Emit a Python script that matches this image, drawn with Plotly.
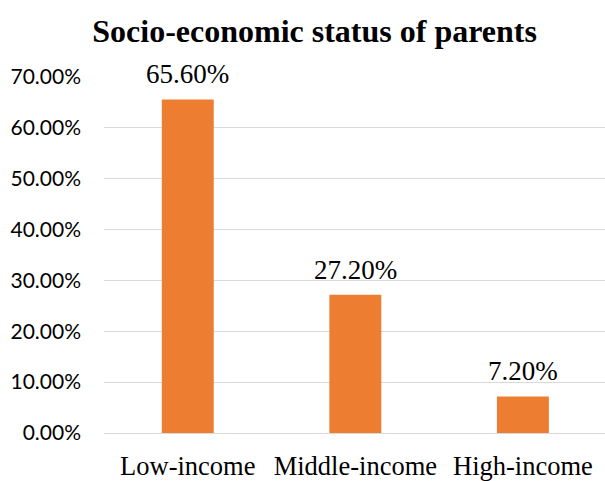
import plotly.graph_objects as go

categories = ["Low-income", "Middle-income", "High-income"]
values = [0.656, 0.272, 0.072]
tick_vals = [0, 0.1, 0.2, 0.3, 0.4, 0.5, 0.6, 0.7]

fig = go.Figure(go.Bar(
    x=categories, y=values, width=0.31,
    marker=dict(color="#ED7D31", line=dict(width=0)),
    cliponaxis=False,
))
for c, v in zip(categories, values):
    fig.add_annotation(x=c, y=v, text=f"{v*100:.2f}%", showarrow=False,
                       yanchor="bottom", yshift=8,
                       font=dict(family="Liberation Serif", size=27, color="#000000"))
fig.update_layout(
    width=605, height=481,
    margin=dict(l=104, r=0, t=77, b=45),
    paper_bgcolor="white", plot_bgcolor="white",
    showlegend=False,
    title=dict(text="<b>Socio-economic status of parents</b>", x=0.52, xanchor="center",
               y=0.935, yanchor="middle",
               font=dict(family="Liberation Serif", size=32, color="#000000")),
    xaxis=dict(range=[-0.5, 2.49], showgrid=False, showline=False, zeroline=False,
               ticks="", tickfont=dict(family="Liberation Serif", size=26.5, color="#000000"),
               ticklabelstandoff=14),
    yaxis=dict(range=[0, 0.7], tickvals=tick_vals, tickformat=".2%",
               showgrid=True, gridcolor="#D9D9D9", gridwidth=1.3,
               zeroline=True, zerolinecolor="#D9D9D9", zerolinewidth=1.3,
               showline=False, ticks="", ticklabelstandoff=22,
               tickfont=dict(family="Lato", size=21, color="#000000")),
)
fig.write_html("out.html")
